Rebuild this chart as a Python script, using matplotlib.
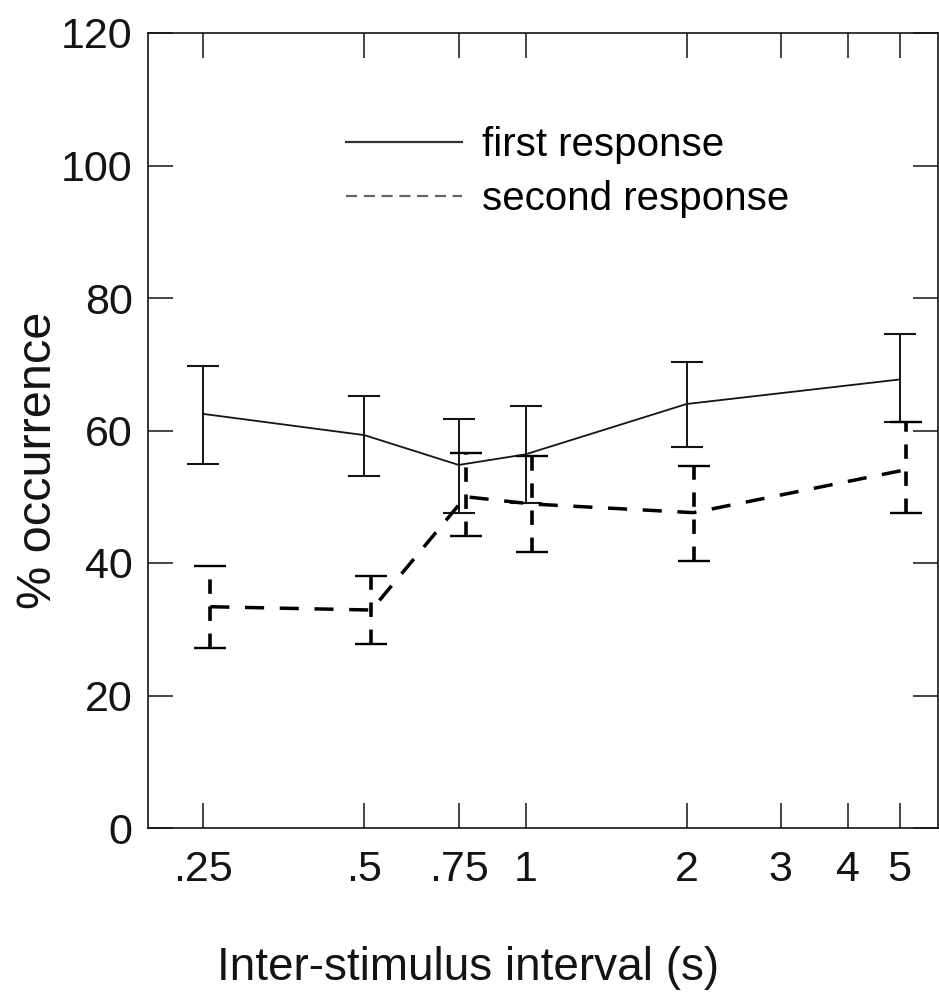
import matplotlib
matplotlib.use('Agg')
import matplotlib.pyplot as plt
from matplotlib.lines import Line2D
from matplotlib.ticker import FixedLocator, FixedFormatter, NullLocator
from matplotlib.transforms import offset_copy

# inter-stimulus interval (s)
isi = [0.25, 0.5, 0.75, 1, 2, 5]

# % occurrence
first_mean = [62.5, 59.3, 54.8, 56.4, 64.0, 67.7]
first_upper = [69.8, 65.2, 61.8, 63.7, 70.3, 74.5]
first_lower = [55.0, 53.2, 47.5, 49.0, 57.5, 61.3]

second_mean = [33.4, 32.9, 50.0, 48.9, 47.6, 54.1]
second_upper = [39.6, 38.1, 56.6, 56.2, 54.6, 61.3]
second_lower = [27.1, 27.8, 44.1, 41.6, 40.3, 47.5]

tick_vals = [0.25, 0.5, 0.75, 1, 2, 3, 4, 5]
tick_labels = ['.25', '.5', '.75', '1', '2', '3', '4', '5']
y_ticks = [0, 20, 40, 60, 80, 100, 120]

plt.rcParams['font.family'] = ['Liberation Sans', 'DejaVu Sans']

fig = plt.figure(figsize=(9.39, 9.94), dpi=100)
ax = fig.add_axes([148 / 939, 166 / 994, 790 / 939, 795 / 994])

ink = '#141414'

def err(mean, lo, hi):
    return [[m - l for m, l in zip(mean, lo)], [h - m for m, h in zip(mean, hi)]]

# first response: thin solid line
ax.errorbar(isi, first_mean, yerr=err(first_mean, first_lower, first_upper),
            color=ink, lw=1.3, elinewidth=1.4, capsize=11.5, capthick=1.5)

# second response: thick dashed, shifted a few points to the right
shift = offset_copy(ax.transData, fig=fig, x=5, y=0, units='points')
line, caps, bars = ax.errorbar(isi, second_mean,
                               yerr=err(second_mean, second_lower, second_upper),
                               color='black', lw=2.5, ls=(0, (5.5, 4.5)),
                               elinewidth=2.6, capsize=11.5, capthick=1.7)
line.set_transform(shift)
for c in caps:
    c.set_transform(shift)
for b in bars:
    b.set_transform(shift)
    b.set_linestyle((0, (4, 3.5)))

ax.set_xscale('log')
ax.set_xlim(0.197, 5.9)
ax.set_ylim(0, 120)
ax.xaxis.set_major_locator(FixedLocator(tick_vals))
ax.xaxis.set_major_formatter(FixedFormatter(tick_labels))
ax.xaxis.set_minor_locator(NullLocator())
ax.set_yticks(y_ticks)

ax.tick_params(direction='in', length=18, width=1.1, top=True, right=True,
               labelsize=31, colors=ink)
ax.tick_params(axis='x', pad=16)
ax.tick_params(axis='y', pad=11)
for s in ax.spines.values():
    s.set_linewidth(1.2)
    s.set_color(ink)

ax.set_xlabel('Inter-stimulus interval (s)', fontsize=33, labelpad=40, color=ink)
ax.xaxis.label.set_x(0.405)
ax.set_ylabel('% occurrence', fontsize=35, color=ink)
ax.yaxis.set_label_coords(-0.110, 0.463)

handles = [Line2D([], [], color='#333333', lw=1.6),
           Line2D([], [], color='#666666', lw=1.6, ls=(0, (5, 3)))]
ax.legend(handles, ['first response', 'second response'], loc='upper left',
          bbox_to_anchor=(0.25, 0.8835), frameon=False, fontsize=29,
          handlelength=2.88, handletextpad=0.5, labelspacing=0.4,
          borderpad=0, borderaxespad=0)

fig.savefig('out.png', dpi=100)
